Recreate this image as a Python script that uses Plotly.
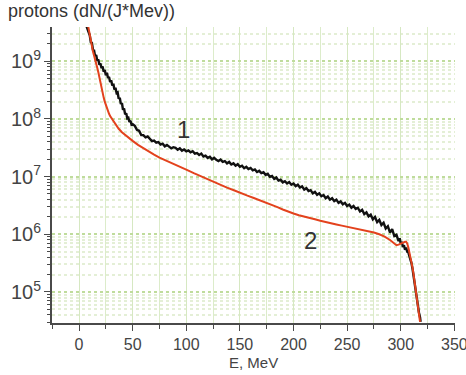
import plotly.graph_objects as go

# Proton spectra: energy (MeV) and log10 of dN/(J*MeV)
# Curve 1 (black, measured, noisy)
e1 = [6, 7, 8, 9, 10, 11, 12, 13, 14, 15, 16, 17, 18, 19, 20, 21, 22, 23, 24, 25,
      26, 27, 28, 29, 30, 31, 32, 33, 34, 35, 36, 37, 38, 39, 40, 41, 42, 43, 44, 45,
      46, 47, 48, 49, 50,
      52, 54, 56, 58, 60, 62, 64, 66, 68, 70, 72, 74, 76, 78, 80, 82, 84, 86, 88, 90,
      92, 94, 96, 98, 100, 102, 104, 106, 108, 110, 112, 114, 116, 118, 120, 122, 124,
      126, 128, 130, 132, 134, 136, 138, 140, 142, 144, 146, 148, 150, 152, 154, 156,
      158, 160, 162, 164, 166, 168, 170, 172, 174, 176, 178, 180, 182, 184, 186, 188,
      190, 192, 194, 196, 198, 200, 202, 204, 206, 208, 210, 212, 214, 216, 218, 220,
      222, 224, 226, 228, 230, 232, 234, 236, 238, 240, 242, 244, 246, 248, 250, 252,
      254, 256, 258, 260, 262, 264, 266, 268, 270, 272, 274, 276, 278, 280, 282, 284,
      286, 288, 290, 292, 294, 296, 298, 299, 300, 301, 302, 303, 304, 305, 306, 307,
      308, 309, 310, 311, 312, 313, 314, 315, 316, 317, 318, 318.5]
lg1 = [9.66, 9.60, 9.57, 9.47, 9.45, 9.33, 9.32, 9.20, 9.19, 9.09, 9.11, 9.01, 9.03, 8.94,
       8.96, 8.88, 8.91, 8.82, 8.85, 8.76, 8.80, 8.71, 8.73, 8.64, 8.67, 8.58, 8.61, 8.51,
       8.54, 8.45, 8.46, 8.35, 8.37, 8.26, 8.28, 8.16, 8.18, 8.08, 8.10, 8.01, 8.02, 7.95,
       7.97, 7.90, 7.91,
       7.88, 7.81, 7.795, 7.72, 7.72, 7.68, 7.695, 7.655, 7.615, 7.625, 7.59, 7.60, 7.555,
       7.57, 7.525, 7.55, 7.52, 7.49, 7.51, 7.50, 7.465, 7.49, 7.45, 7.47, 7.44, 7.455,
       7.42, 7.44, 7.40, 7.41, 7.375, 7.40, 7.35, 7.365, 7.325, 7.345, 7.30, 7.325, 7.29,
       7.27, 7.295, 7.255, 7.27, 7.23, 7.255, 7.21, 7.23, 7.19, 7.215, 7.17, 7.19, 7.145,
       7.17, 7.13, 7.15, 7.11, 7.125, 7.08, 7.10, 7.06, 7.075, 7.03, 7.05, 6.995, 7.01,
       6.96, 6.985, 6.93, 6.945, 6.90, 6.92, 6.88, 6.905, 6.86, 6.88, 6.835, 6.86, 6.81,
       6.83, 6.775, 6.80, 6.75, 6.765, 6.71, 6.735, 6.685, 6.71, 6.66, 6.68, 6.625, 6.655,
       6.60, 6.625, 6.575, 6.60, 6.545, 6.57, 6.52, 6.545, 6.49, 6.515, 6.46, 6.49, 6.44,
       6.46, 6.395, 6.425, 6.35, 6.38, 6.31, 6.34, 6.26, 6.30, 6.21, 6.25, 6.16, 6.20,
       6.10, 6.14, 6.03, 6.09, 5.97, 5.99, 5.88, 5.93, 5.84, 5.87, 5.78, 5.81, 5.73, 5.77,
       5.70, 5.69, 5.63, 5.60, 5.50, 5.40, 5.27, 5.12, 4.98, 4.86, 4.74, 4.64, 4.56, 4.48]

# Curve 2 (red)
e2 = [8, 9, 10, 11, 12, 13, 14, 15, 16, 17, 18, 19, 20, 21, 22, 23, 24, 25, 26, 27, 28,
      29, 30, 32, 34, 37, 40, 43, 46, 50, 55, 60, 65, 70, 75, 80, 85, 90, 95, 100, 107,
      113, 120, 126, 132, 138, 145, 151, 157, 163, 169, 175, 180, 185, 190, 195, 200,
      205, 210, 215, 220, 225, 230, 235, 240, 245, 250, 255, 260, 265, 270, 275, 280,
      285, 290, 293, 296, 298, 300, 302, 304, 305, 306, 307, 308, 309, 310, 311, 312,
      313, 314, 315, 316, 317, 318]
lg2 = [9.66, 9.55, 9.45, 9.35, 9.26, 9.17, 9.10, 9.04, 8.97, 8.89, 8.81, 8.71, 8.62, 8.52,
       8.44, 8.37, 8.30, 8.24, 8.18, 8.13, 8.09, 8.05, 8.02, 7.96, 7.90, 7.83, 7.77, 7.72,
       7.67, 7.62, 7.55, 7.49, 7.43, 7.38, 7.33, 7.29, 7.25, 7.21, 7.16, 7.12, 7.06, 7.01,
       6.96, 6.91, 6.86, 6.81, 6.76, 6.71, 6.67, 6.63, 6.59, 6.55, 6.51, 6.47, 6.43, 6.39,
       6.36, 6.33, 6.31, 6.28, 6.26, 6.235, 6.21, 6.19, 6.17, 6.15, 6.13, 6.115, 6.10,
       6.08, 6.06, 6.03, 6.00, 5.96, 5.90, 5.85, 5.81, 5.82, 5.84, 5.86, 5.87, 5.87, 5.84,
       5.78, 5.70, 5.62, 5.52, 5.42, 5.30, 5.17, 5.03, 4.88, 4.74, 4.60, 4.48]

n1 = [10 ** v for v in lg1]
n2 = [10 ** v for v in lg2]

FONT = "Arial, Liberation Sans, sans-serif"
AXIS = "#4a4a4a"

fig = go.Figure()
fig.add_trace(go.Scatter(x=e1, y=n1, mode="lines",
                         line=dict(color="#111111", width=2.4), showlegend=False))
fig.add_trace(go.Scatter(x=e2, y=n2, mode="lines",
                         line=dict(color="#e3421d", width=2), showlegend=False))

fig.update_layout(
    width=466, height=375,
    margin=dict(l=52, r=11, t=27, b=52),
    paper_bgcolor="white", plot_bgcolor="white",
    font=dict(family=FONT, color="#444444"),
    xaxis=dict(
        range=[-25.2, 350.6], tick0=0, dtick=50, automargin=False,
        ticks="outside", ticklen=6, tickwidth=1.3, tickcolor=AXIS,
        showline=True, linecolor=AXIS, linewidth=1.5,
        showgrid=True, gridcolor="#d6e8c2", gridwidth=1,
        zeroline=False, ticklabeloverflow="allow",
        minor=dict(dtick=25, ticks="outside", ticklen=4, tickcolor=AXIS,
                   showgrid=True, gridcolor="#dcecca"),
        tickfont=dict(size=16, color="#444444"),
    ),
    yaxis=dict(
        type="log", range=[4.461, 9.595], dtick=1, automargin=False,
        exponentformat="power",
        ticks="outside", ticklen=6, tickwidth=1.3, tickcolor=AXIS,
        showline=True, linecolor=AXIS, linewidth=1.5,
        showgrid=True, gridcolor="#bfdc9c", gridwidth=2, griddash="dot",
        zeroline=False,
        minor=dict(dtick="D1", ticks="outside", ticklen=3, tickcolor=AXIS,
                   showgrid=True, gridcolor="#e4efd6"),
        tickfont=dict(size=16, color="#444444"),
    ),
)

# Axis captions
fig.add_annotation(text="protons (dN/(J*Mev))", xref="paper", yref="paper",
                   x=-0.114, y=1.0525, xanchor="left", yanchor="middle",
                   showarrow=False, font=dict(size=18, color="#333333"))
fig.add_annotation(text="E, MeV", xref="paper", yref="paper",
                   x=0.501, y=-0.134, xanchor="center", yanchor="middle",
                   showarrow=False, font=dict(size=15, color="#444444"))
# Curve labels
fig.add_annotation(text="1", x=97, y=7.81, showarrow=False,
                   font=dict(size=24, color="#333333"))
fig.add_annotation(text="2", x=215.6, y=5.90, showarrow=False,
                   font=dict(size=24, color="#333333"))

fig.write_html("out.html")
